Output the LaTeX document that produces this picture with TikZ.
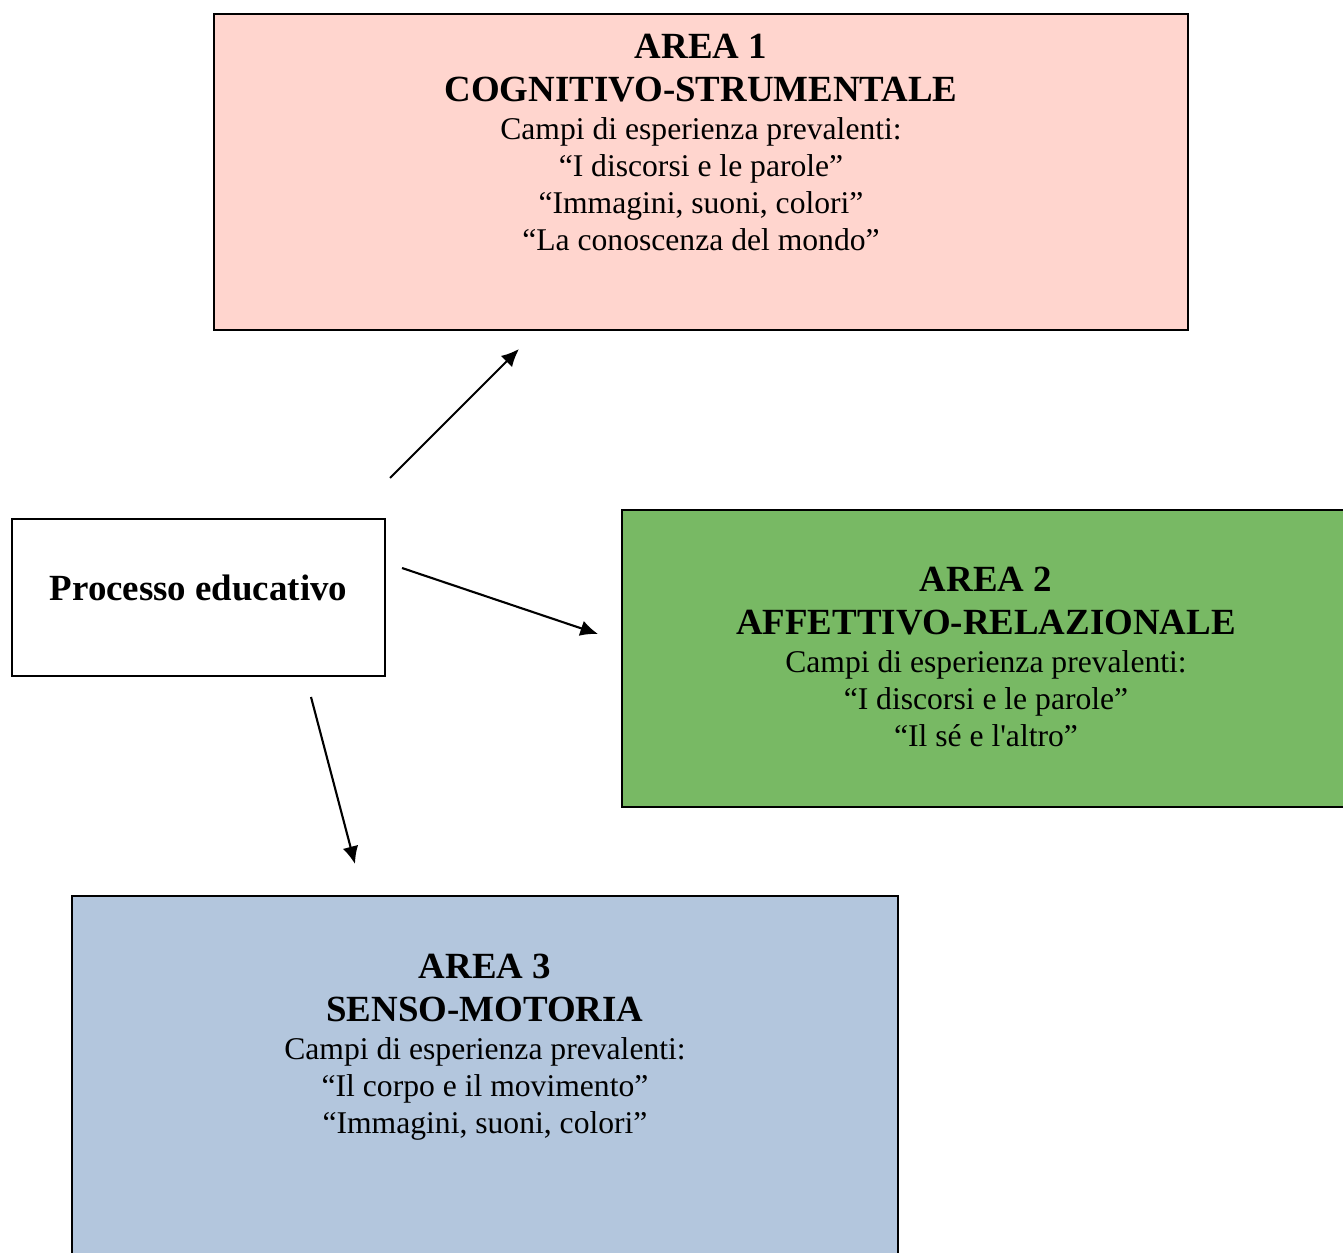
\documentclass[tikz,border=0pt]{standalone}
\usepackage{fontspec}
\setmainfont{Liberation Serif}[Ligatures=TeXOff]
\usepackage{xcolor}
\usetikzlibrary{shapes,arrows,arrows.meta}

\definecolor{areaone}{RGB}{255,213,206}
\definecolor{areatwo}{RGB}{120,185,100}
\definecolor{areathree}{RGB}{179,198,221}

\begin{document}
\begin{tikzpicture}[x=0.02cm,y=-0.02cm]
	\tikzset{align=center,font=\fontsize{18}{21}\selectfont}
	
	\tikzset{areabox/.style = {shape=rectangle,draw,line width=1.1pt,inner sep=0pt}}
	
	\tikzset{areatext/.style = {anchor=north,inner sep=0pt}}
	
	\clip (0,0) rectangle (1343,1253);
	
	% boxes
	
	\node[areabox,fill=areaone,minimum width=19.48cm,minimum height=6.32cm] (area1) at (701,172) {};
	
	\node[areabox,fill=areatwo,minimum width=14.8cm,minimum height=5.94cm] (area2) at (992,658.5) {};
	
	\node[areabox,fill=areathree,minimum width=16.52cm,minimum height=7.48cm] (area3) at (485,1083) {};
	
	\node[areabox,fill=white,minimum width=7.46cm,minimum height=3.14cm,text depth=11.5pt,font=\fontsize{21}{24}\selectfont\bfseries] (proc) at (198.5,597.5) {Processo educativo};
	
	% texts
	
	\node[areatext] (text1) at (701,34) {{\fontsize{21}{24}\selectfont\bfseries AREA 1}\\[3.5pt]{\fontsize{21}{24}\selectfont\bfseries COGNITIVO-STRUMENTALE}\\[0.5pt]Campi di esperienza prevalenti:\\“I discorsi e le parole”\\“Immagini, suoni, colori”\\“La conoscenza del mondo”};
	
	\node[areatext] (text2) at (986,567) {{\fontsize{21}{24}\selectfont\bfseries AREA 2}\\[3.5pt]{\fontsize{21}{24}\selectfont\bfseries AFFETTIVO-RELAZIONALE}\\[0.5pt]Campi di esperienza prevalenti:\\“I discorsi e le parole”\\“Il sé e l'altro”};
	
	\node[areatext] (text3) at (485,954) {{\fontsize{21}{24}\selectfont\bfseries AREA 3}\\[3.5pt]{\fontsize{21}{24}\selectfont\bfseries SENSO-MOTORIA}\\[0.5pt]Campi di esperienza prevalenti:\\“Il corpo e il movimento”\\“Immagini, suoni, colori”};
	
	% arrow ends
	
	\coordinate (from1) at (390,478);
	\coordinate (to1) at (519,349);
	\coordinate (from2) at (402,568);
	\coordinate (to2) at (598,634);
	\coordinate (from3) at (311,697);
	\coordinate (to3) at (355,864);
	
	%edges
	
	\begin{scope}[every edge/.style={draw=black,line width=1.2pt,-{Latex[length=10pt,width=9pt]}}]
	\draw (from1) edge (to1);
	\draw (from2) edge (to2);
	\draw (from3) edge (to3);
	\end{scope}
\end{tikzpicture}
\end{document}
